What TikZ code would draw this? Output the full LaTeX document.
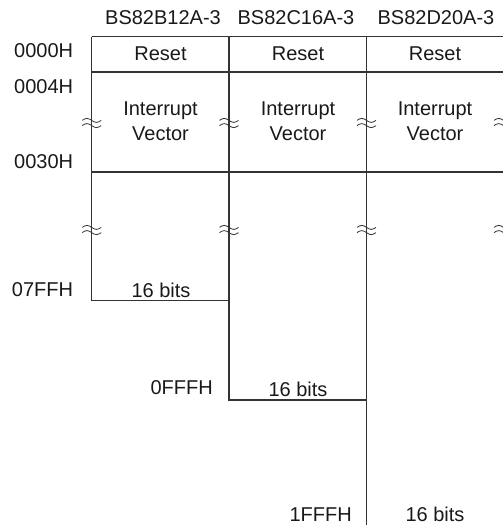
\documentclass[tikz,border=0pt]{standalone}
\usepackage{fontspec}
\setmainfont{Liberation Sans}
\usetikzlibrary{positioning}

\begin{document}
\begin{tikzpicture}[x=1pt, y=-1pt,
		txt/.style={anchor=base, inner sep=0pt, text=black!90, font=\fontsize{20}{25}\selectfont},
		addr/.style={txt, anchor=base east},
		grid line/.style={black!80, line width=1.2pt},
		wave/.style={black!80, line width=0.8pt}]
		\useasboundingbox (0,0) rectangle (503,525);
		\draw[grid line] (91.7,36.7) -- (510,36.7) (91.7,72) -- (510,72) (91.7,172) -- (510,172);
		\draw[grid line] (91.7,36.7) -- (91.7,300.7) -- (229,300.7);
		\draw[grid line] (229,36.7) -- (229,400) -- (366.5,400);
		\draw[grid line] (366.5,36.7) -- (366.5,530) (503.5,36.7) -- (503.5,530);
		\foreach \x in {91.7,229,366.5,503.5}
			\foreach \y in {123,230}
				\foreach \dy in {-2.6,2.6}
					\draw[wave] (\x-9.5,\y+\dy) sin (\x-4.75,\y+\dy-2) cos (\x,\y+\dy) sin (\x+4.75,\y+\dy+2) cos (\x+9.5,\y+\dy);
		\foreach \hx/\cx/\chip [count=\i] in {163/160.5/BS82B12A-3, 296/298/BS82C16A-3, 436/435/BS82D20A-3} {
			\node[txt] (head\i) at (\hx,24.3) {\chip};
			\node[txt] (reset\i) at (\cx,60) {Reset};
			\node[txt, align=center] (vector\i) at (\cx,140) {Interrupt\\Vector};
		}
		\node[txt] (bitsA) at (161,297.7) {16 bits};
		\node[txt] (bitsB) at (298,396.7) {16 bits};
		\node[txt] (bitsC) at (435,521) {16 bits};
		\node[addr] (a0000) at (73.3,57) {0000H};
		\node[addr] (a0004) at (73.3,93) {0004H};
		\node[addr] (a0030) at (73.3,168.5) {0030H};
		\node[addr] (a07FF) at (73.3,296) {07FFH};
		\node[addr] (a0FFF) at (213,394) {0FFFH};
		\node[addr] (a1FFF) at (352,521) {1FFFH};
	\end{tikzpicture}
\end{document}
